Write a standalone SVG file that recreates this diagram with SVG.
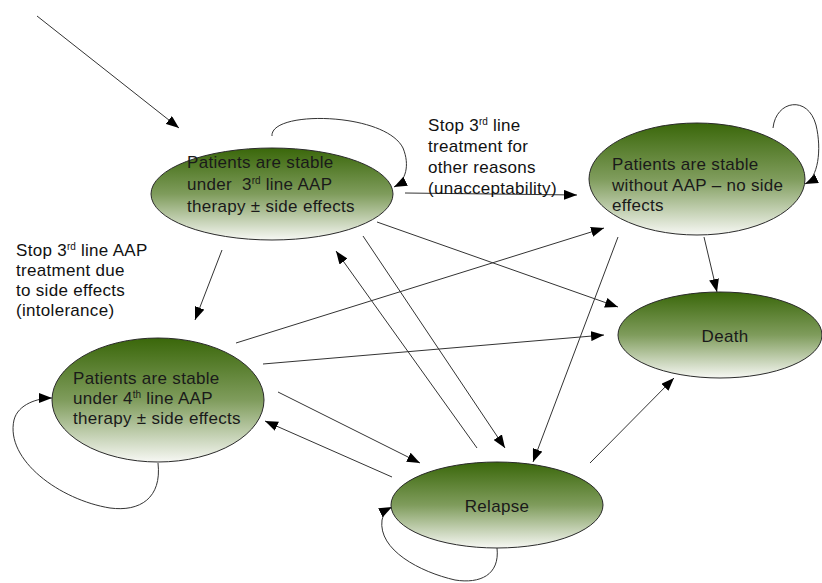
<svg xmlns="http://www.w3.org/2000/svg" width="822" height="583" viewBox="0 0 822 583">
<style>
  .node { fill: url(#g); stroke: #2a2a2a; stroke-width: 1; }
  .t { font-family: "Liberation Sans", Arial, sans-serif; font-size: 17px; fill: #1a1a1a; letter-spacing: 0.3px; }
  .lbl { font-family: "Liberation Sans", Arial, sans-serif; font-size: 17px; fill: #111; letter-spacing: 0.3px; }
  .sup { font-size: 10px; letter-spacing: 0; }
  .c { fill: none; stroke: #333; stroke-width: 1; marker-end: url(#ah); }
</style>
<defs>
  <linearGradient id="g" x1="0" y1="0" x2="0" y2="1">
    <stop offset="0" stop-color="#3a670a"/>
    <stop offset="0.5" stop-color="#7f9c5c"/>
    <stop offset="1" stop-color="#f7f8f4"/>
  </linearGradient>
  <marker id="ah" markerUnits="userSpaceOnUse" markerWidth="14" markerHeight="10" refX="13" refY="5" orient="auto">
    <path d="M0,0 L13,5 L0,10 z" fill="#000"/>
  </marker>
</defs>
<rect width="822" height="583" fill="#fff"/>

<g id="connectors">
  <line class="c" x1="37" y1="16" x2="179" y2="128"/>
  <path class="c" d="M272,136 C270,110 385,112 403,148 C410,165 406,181 394,187"/>
  <line class="c" x1="405" y1="193" x2="577" y2="195"/>
  <path class="c" d="M773,128 C776,100 808,95 816,125 C822,150 818,178 805,184"/>
  <line class="c" x1="704" y1="237" x2="717" y2="292"/>
  <line class="c" x1="377" y1="222" x2="618" y2="307"/>
  <line class="c" x1="236" y1="343" x2="604" y2="228"/>
  <line class="c" x1="263" y1="364" x2="604" y2="335"/>
  <line class="c" x1="278" y1="392" x2="420" y2="463"/>
  <line class="c" x1="392" y1="477" x2="265" y2="421"/>
  <line class="c" x1="477" y1="448" x2="336" y2="251"/>
  <line class="c" x1="363" y1="236" x2="505" y2="448"/>
  <line class="c" x1="618" y1="237" x2="533" y2="462"/>
  <line class="c" x1="590" y1="463" x2="674" y2="378"/>
  <line class="c" x1="222" y1="250" x2="195" y2="320"/>
  <path class="c" d="M158,463 C162,498 140,512 110,508 C60,500 5,460 14,420 C18,404 38,398 52,398"/>
  <path class="c" d="M497,548 C500,575 480,584 455,580 C420,572 378,550 382,520 C384,512 388,509 392,507"/>
</g>

<g id="n-third">
  <ellipse class="node" cx="272" cy="194" rx="121" ry="46"/>
  <text class="t" x="187" y="168">Patients are stable</text>
  <text class="t" x="187" y="190" xml:space="preserve">under  3<tspan class="sup" dy="-6">rd</tspan><tspan dy="6"> line AAP</tspan></text>
  <text class="t" x="187" y="212">therapy ± side effects</text>
</g>

<g id="n-without">
  <ellipse class="node" cx="697" cy="179" rx="108" ry="56"/>
  <text class="t" x="612" y="170">Patients are stable</text>
  <text class="t" x="612" y="191">without AAP – no side</text>
  <text class="t" x="612" y="211">effects</text>
</g>

<g id="n-death">
  <ellipse class="node" cx="720" cy="335" rx="102" ry="43"/>
  <text class="t" x="725" y="342" text-anchor="middle">Death</text>
</g>

<g id="n-fourth">
  <ellipse class="node" cx="158" cy="400" rx="106" ry="62"/>
  <text class="t" x="73" y="384">Patients are stable</text>
  <text class="t" x="73" y="404">under 4<tspan class="sup" dy="-6">th</tspan><tspan dy="6"> line AAP</tspan></text>
  <text class="t" x="73" y="424">therapy ± side effects</text>
</g>

<g id="n-relapse">
  <ellipse class="node" cx="497" cy="505" rx="106" ry="43"/>
  <text class="t" x="497" y="512" text-anchor="middle">Relapse</text>
</g>

<g id="labels">
  <text class="lbl" x="428" y="131">Stop 3<tspan class="sup" dy="-6">rd</tspan><tspan dy="6"> line</tspan></text>
  <text class="lbl" x="428" y="152">treatment for</text>
  <text class="lbl" x="428" y="173">other reasons</text>
  <text class="lbl" x="428" y="194">(unacceptability)</text>
  <text class="lbl" x="16" y="256">Stop 3<tspan class="sup" dy="-6">rd</tspan><tspan dy="6"> line AAP</tspan></text>
  <text class="lbl" x="16" y="276">treatment due</text>
  <text class="lbl" x="16" y="296">to side effects</text>
  <text class="lbl" x="16" y="316">(intolerance)</text>
</g>
</svg>
